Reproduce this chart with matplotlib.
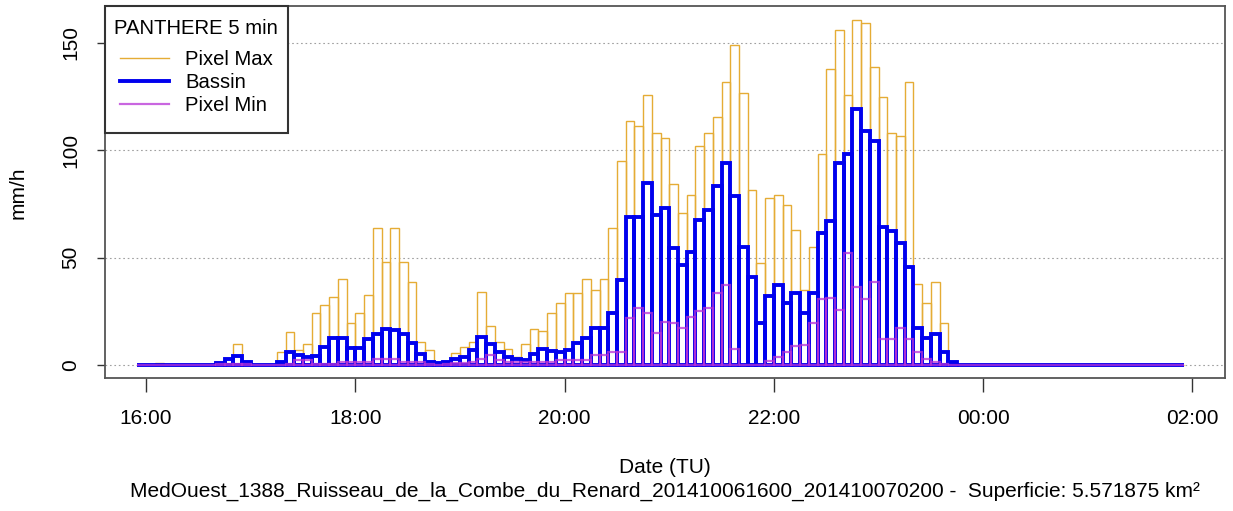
import matplotlib
matplotlib.use('Agg')

import numpy as np
import pandas as pd
import matplotlib.pyplot as plt
import matplotlib.dates as mdates
from matplotlib.lines import Line2D
from matplotlib.offsetbox import DrawingArea

plt.rcParams['font.family'] = ['Liberation Sans', 'DejaVu Sans']

# 5-min rain rates (mm/h), 120 steps starting 15:55 TU
bassin = [0, 0, 0.2, 0, 0, 0, 0, 0, 0, 1.1,
          2.6, 4.3, 1.6, 0, 0, 0, 1.6, 6.2, 4.7, 3.6,
          4.2, 8.5, 12.7, 12.7, 8.1, 8.1, 11.9, 14.4, 16.8, 16.3,
          14.4, 10.1, 5.1, 1.2, 0.8, 1.2, 2.9, 3.9, 7.0, 12.9,
          9.8, 6.2, 3.9, 2.6, 2.3, 5.1, 7.3, 6.5, 6.2, 6.8,
          10.1, 12.4, 17.1, 17.1, 24.0, 39.6, 68.7, 68.7, 84.5, 69.8,
          72.9, 54.3, 46.5, 52.7, 67.5, 72.1, 83.3, 93.8, 78.8, 55.1,
          41.1, 19.7, 32.1, 37.2, 28.7, 33.7, 24.4, 33.3, 61.6, 67.2,
          93.8, 98.4, 119.0, 108.9, 104.3, 64.4, 62.5, 56.9, 45.8, 17.1,
          12.4, 14.3, 5.9, 1.6, 0, 0, 0, 0, 0, 0,
          0, 0, 0, 0, 0, 0, 0, 0, 0, 0,
          0, 0, 0, 0, 0, 0, 0, 0, 0, 0]
pixel_max = [0, 0, 1.0, 0, 0, 0, 0, 0, 0, 1.5,
             2.8, 9.8, 1.9, 0, 0, 0, 6.2, 15.5, 7.0, 9.6,
             24.0, 27.9, 31.5, 39.9, 19.4, 24.0, 32.6, 63.6, 48.1, 63.6,
             48.1, 38.8, 10.9, 7.0, 1.2, 1.6, 5.7, 8.5, 10.9, 33.8,
             18.1, 10.9, 7.3, 3.9, 9.6, 16.9, 15.8, 24.0, 29.0, 33.7,
             33.7, 39.9, 34.9, 39.9, 63.6, 94.9, 113.7, 111.2, 125.6, 107.8,
             105.5, 84.1, 70.9, 79.1, 101.9, 107.8, 115.2, 131.8, 148.9, 126.7,
             81.4, 47.3, 77.6, 79.1, 74.5, 62.8, 34.9, 55.1, 98.2, 137.7,
             155.9, 125.6, 160.5, 159.3, 138.8, 124.5, 107.8, 106.6, 131.8, 37.7,
             29.0, 38.8, 19.4, 1.6, 0, 0, 0, 0, 0, 0,
             0, 0, 0, 0, 0, 0, 0, 0, 0, 0,
             0, 0, 0, 0, 0, 0, 0, 0, 0, 0]
pixel_min = [0, 0, 0, 0, 0, 0, 0, 0, 0, 0.3,
             0.3, 0.5, 0.3, 0, 0, 0, 0.2, 0.5, 2.5, 2.5,
             0.3, 0.3, 0.3, 1.2, 1.2, 1.2, 1.2, 2.6, 2.6, 2.6,
             1.5, 1.2, 1.2, 0.3, 0.2, 0.3, 1.0, 1.0, 1.5, 3.0,
             4.5, 2.5, 1.5, 1.2, 1.2, 1.5, 1.5, 1.6, 2.3, 2.3,
             2.3, 2.3, 4.7, 4.7, 6.2, 6.2, 21.7, 26.4, 24.0, 14.7,
             20.2, 19.4, 17.1, 22.5, 25.0, 26.4, 33.3, 37.2, 7.3, 0,
             0, 0, 2.0, 3.6, 6.2, 8.8, 9.3, 19.4, 30.6, 31.3,
             25.6, 52.0, 36.1, 30.6, 38.8, 11.9, 11.9, 17.1, 11.9, 6.2,
             2.6, 1.6, 0.5, 0.2, 0, 0, 0, 0, 0, 0,
             0, 0, 0, 0, 0, 0, 0, 0, 0, 0,
             0, 0, 0, 0, 0, 0, 0, 0, 0, 0]

series_names = ['Pixel Max', 'Bassin', 'Pixel Min']
legend_title = 'PANTHERE 5 min'
subtitle = ('MedOuest_1388_Ruisseau_de_la_Combe_du_Renard_201410061600_201410070200 -  '
            'Superficie: 5.571875 km\u00b2')

t0 = pd.Timestamp('2014-10-06 15:55')
edges = mdates.date2num(pd.date_range(t0, periods=len(bassin), freq='5min'))
step = 5 / 1440

c_max = '#E5AC35'
c_bas = '#0000EE'
c_min = '#B833D6'

fig = plt.figure(figsize=(12.33, 5.11), dpi=100)
ax = fig.add_axes([0.0848, 0.2597, 0.9088, 0.7286])

for yv in [0, 50, 100, 150]:
    ax.axhline(yv, color='#a0a0a0', ls=(0, (1.5, 2.5)), lw=0.8, zorder=0)

ax.bar(edges, pixel_max, width=step, align='edge', fill=False,
       edgecolor=c_max, linewidth=1.0, zorder=2)
ax.bar(edges, bassin, width=step, align='edge', fill=False,
       edgecolor=c_bas, linewidth=2.8, zorder=3)
ax.bar(edges, pixel_min, width=step, align='edge', fill=False,
       edgecolor=c_min, linewidth=1.6, alpha=0.75, zorder=4)

t16 = pd.Timestamp('2014-10-06 16:00')
ax.set_xlim(mdates.date2num(t16 - pd.Timedelta(minutes=23.8)),
            mdates.date2num(t16 + pd.Timedelta(minutes=618.7)))
ax.set_ylim(-6.2, 167.05)

ax.set_xticks(mdates.date2num(pd.date_range(t16, periods=6, freq='2h')))
ax.xaxis.set_major_formatter(mdates.DateFormatter('%H:%M'))
ax.set_yticks([0, 50, 100, 150])

ax.tick_params(axis='x', direction='out', length=10, width=1, pad=12,
               labelsize=15, color='#333333')
ax.tick_params(axis='y', direction='out', length=5.5, width=1, pad=19,
               labelsize=15, color='#333333')
plt.setp(ax.get_yticklabels(), rotation=90, va='center', ha='center')

for sp in ax.spines.values():
    sp.set_color('#555555')
    sp.set_linewidth(1.3)

fig.text(18 / 1233, 1 - 193 / 511, 'mm/h', rotation=90, ha='center', va='center', fontsize=15)
fig.text(665 / 1233, 1 - 467 / 511, 'Date (TU)', ha='center', va='center', fontsize=15)
fig.text(665 / 1233, 1 - 491 / 511, subtitle, ha='center', va='center', fontsize=15.0)

handles = [Line2D([], [], color=c_max, lw=1.0),
           Line2D([], [], color=c_bas, lw=2.8),
           Line2D([], [], color=c_min, lw=1.6, alpha=0.75)]
leg = ax.legend(handles, series_names, title=legend_title, loc='upper left',
                bbox_to_anchor=(0, 1), borderaxespad=0, fancybox=False,
                edgecolor='#333333', framealpha=1, fontsize=14.6, title_fontsize=14.6,
                handlelength=2.4, handletextpad=0.8, labelspacing=0.21, borderpad=0.25)
leg.get_frame().set_linewidth(1.5)

# R-like legend spacing: extra room above the title, between title and keys, and below
box = leg._legend_box
title_box, handle_box = box.get_children()[:2]
box._children = [DrawingArea(125, 5.8), title_box, DrawingArea(1, 8.4),
                 handle_box, DrawingArea(1, 8.8)]
box.sep = 0

fig.savefig('out.png', dpi=100)
